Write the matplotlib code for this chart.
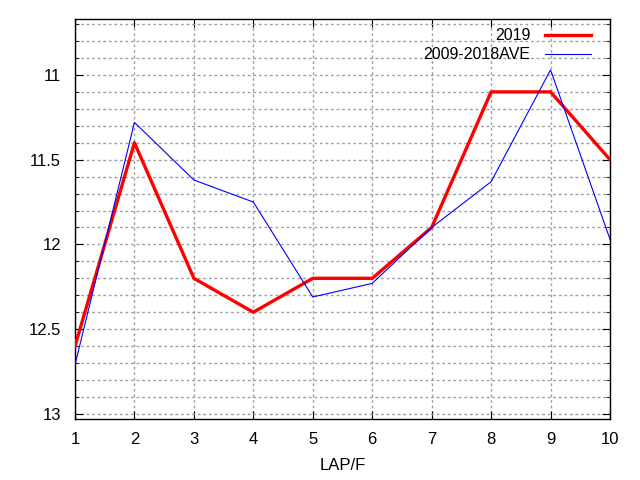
import numpy as np
import matplotlib.pyplot as plt
from matplotlib.ticker import MultipleLocator

plt.rcParams['font.family'] = ['Liberation Sans', 'DejaVu Sans']

laps = [1, 2, 3, 4, 5, 6, 7, 8, 9, 10]
y2019 = [12.6, 11.4, 12.2, 12.4, 12.2, 12.2, 11.9, 11.1, 11.1, 11.5]
yave = [12.71, 11.28, 11.62, 11.75, 12.31, 12.23, 11.9, 11.63, 10.97, 11.97]

fig = plt.figure(figsize=(6.4, 4.8), dpi=100)
ax = fig.add_axes([75/640, 1-419/480, 535/640, 400/480])

ax.plot(laps, y2019, color='#ff0000', lw=2.4, label='2019', zorder=3)
ax.plot(laps, yave, color='#0000ff', lw=0.8, label='2009-2018AVE', zorder=3)

ax.set_xlim(1, 10)
ax.set_ylim(13.03, 10.67)
ax.xaxis.set_major_locator(MultipleLocator(1))
ax.yaxis.set_minor_locator(MultipleLocator(0.1))
ax.set_yticks([11, 11.5, 12, 12.5, 13])
ax.set_yticklabels(['11', '11.5', '12', '12.5', '13'])

ax.grid(True, which='both', color='#a0a0a0', ls=(0, (2, 2)), lw=1)
ax.tick_params(which='both', direction='in', top=True, right=True, labelsize=12)
ax.tick_params(which='major', length=6)
ax.tick_params(axis='x', which='major', pad=9)
ax.tick_params(axis='y', which='major', pad=10)
ax.tick_params(which='minor', length=3)
for s in ax.spines.values():
    s.set_linewidth(1)

ax.set_xlabel('LAP/F', fontsize=12, labelpad=8)

leg = ax.legend(loc='upper right', frameon=False, markerfirst=False, fontsize=11.5,
                handlelength=2.9, handletextpad=0.9, borderpad=0, borderaxespad=0,
                labelspacing=0.25, bbox_to_anchor=(0.965, 0.977))
for t in leg.get_texts():
    t.set_ha('right')

plt.savefig('out.png', dpi=100)
